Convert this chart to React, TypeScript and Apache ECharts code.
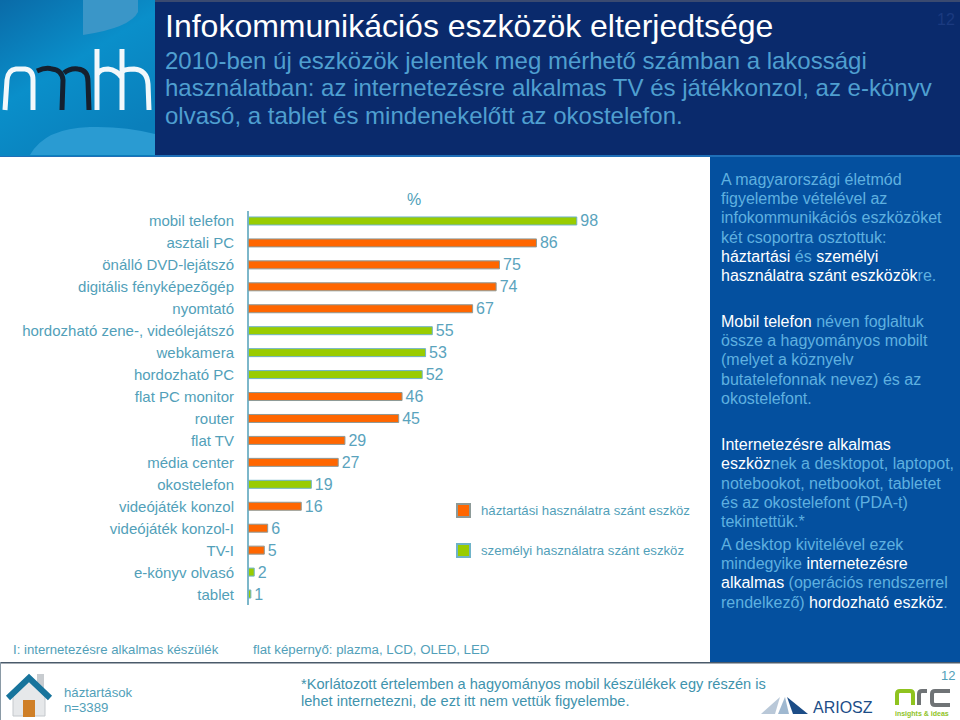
import React, { useEffect, useRef } from "react";
import * as echarts from "echarts";

const categories = [
  "mobil telefon", "asztali PC", "önálló DVD-lejátszó", "digitális fényképezõgép", "nyomtató",
  "hordozható zene-, videólejátszó", "webkamera", "hordozható PC", "flat PC monitor", "router",
  "flat TV", "média center", "okostelefon", "videójáték konzol", "videójáték konzol-I", "TV-I",
  "e-könyv olvasó", "tablet",
];
const household = [null, 86, 75, 74, 67, null, null, null, 46, 45, 29, 27, null, 16, 6, 5, null, null];
const personal = [98, null, null, null, null, 55, 53, 52, null, null, null, null, 19, null, null, null, 2, 1];
const seriesNames = ["háztartási használatra szánt eszköz", "személyi használatra szánt eszköz"];

const titleText = "Infokommunikációs eszközök elterjedtsége";
const subtitleLines = [
  "2010-ben új eszközök jelentek meg mérhető számban a lakossági",
  "használatban: az internetezésre alkalmas TV és játékkonzol, az e-könyv",
  "olvasó, a tablet és mindenekelőtt az okostelefon.",
];
// [y, [text, highlighted]...]
const panelLines: [number, [string, boolean][]][] = [
  [179, [["A magyarországi életmód", false]]],
  [198, [["figyelembe vételével az", false]]],
  [217, [["infokommunikációs eszközöket", false]]],
  [237, [["két csoportra osztottuk:", false]]],
  [256, [["háztartási", true], [" és ", false], ["személyi", true]]],
  [275, [["használatra szánt eszközök", true], ["re.", false]]],
  [321, [["Mobil telefon", true], [" néven foglaltuk", false]]],
  [340, [["össze a hagyományos mobilt", false]]],
  [359, [["(melyet a köznyelv", false]]],
  [379, [["butatelefonnak nevez) és az", false]]],
  [398, [["okostelefont.", false]]],
  [444, [["Internetezésre alkalmas", true]]],
  [463, [["eszköz", true], ["nek a desktopot, laptopot,", false]]],
  [483, [["notebookot, netbookot, tabletet", false]]],
  [502, [["és az okostelefont (PDA-t)", false]]],
  [521, [["tekintettük.*", false]]],
  [544, [["A desktop kivitelével ezek", false]]],
  [563, [["mindegyike ", false], ["internetezésre", true]]],
  [582, [["alkalmas", true], [" (operációs rendszerrel", false]]],
  [602, [["rendelkező) ", false], ["hordozható eszköz", true], [".", false]]],
];

const FONT = "Liberation Sans, Arial, sans-serif";
const TEAL = "#529fb9";

echarts.graphic.registerShape("nmhhWhite", echarts.graphic.extendPath(
  "M5 110 L7 80 Q8 70 16 69 L25 69 Q33 70 33 80 L33 110 M97 49 L97 110 M97 75 Q99 69 108 69 Q117 70 122 78 M122 49 L122 110 M122 72 Q124 69 134 69 Q147 70 148 84 L149 110", {}));
echarts.graphic.registerShape("nmhhDark", echarts.graphic.extendPath(
  "M37 71 Q46 67 52 69 Q62 70 63 80 L62 110 M64 73 Q70 68 78 69 Q88 70 88 82 L89 110", {}));
echarts.graphic.registerShape("logoBlobTop", echarts.graphic.extendPath(
  "M83 0 L138 0 L138 12 Q130 28 83 35 Z", {}));
echarts.graphic.registerShape("logoBlobBottom", echarts.graphic.extendPath(
  "M30 155 Q45 128 90 127 Q125 126 155 134 L155 155 Z", {}));
echarts.graphic.registerShape("nrcMark", echarts.graphic.extendPath(
  "M897 705 L897 694 Q897 691 900 691 L910 691 Q913 691 913 694 L913 705", {}));
echarts.graphic.registerShape("nrcGray", echarts.graphic.extendPath(
  "M919 705 L919 694 Q919 691 922 691 L927 691 M950 691 L935 691 Q932 691 932 694 L932 702 Q932 705 935 705 L950 705", {}));

function panelText(y: number, segs: [string, boolean][]) {
  const text = segs.map(([t, hi]) => `{${hi ? "h" : "n"}|${t}}`).join("");
  return {
    type: "text", x: 721, y,
    style: {
      text, font: `16px ${FONT}`, verticalAlign: "middle", align: "left",
      rich: {
        n: { fill: "#5fb0e0", font: `16px ${FONT}` },
        h: { fill: "#ffffff", font: `16px ${FONT}` },
      },
    },
  };
}

function plainText(x: number, y: number, text: string, size: number, fill: string, extra: any = {}) {
  return {
    type: "text", x, y,
    style: { text, fill, font: `${size}px ${FONT}`, verticalAlign: "middle", align: "left", ...extra },
  };
}

function buildOption() {
  const graphicEls: any[] = [
    { type: "rect", shape: { x: 0, y: 0, width: 960, height: 157 }, style: { fill: "#0a2a6c" } },
    { type: "rect", shape: { x: 0, y: 155, width: 960, height: 2 }, style: { fill: "#1f6fb8" } },
    { type: "rect", shape: { x: 155, y: 0, width: 805, height: 2 }, style: { fill: "#3a4a70" } },
    {
      type: "rect", shape: { x: 0, y: 0, width: 155, height: 156 },
      style: {
        fill: new echarts.graphic.LinearGradient(0, 0, 0.6, 1, [
          { offset: 0, color: "#0a6ba8" },
          { offset: 0.5, color: "#0a8fca" },
          { offset: 1, color: "#0a7fbb" },
        ]),
      },
    },
    { type: "logoBlobTop", style: { fill: "#3a96c8" } },
    { type: "logoBlobBottom", style: { fill: "#2a9bd2" } },
    { type: "nmhhWhite", style: { fill: "none", stroke: "#f2f8fb", lineWidth: 5 } },
    { type: "nmhhDark", style: { fill: "none", stroke: "#15202e", lineWidth: 5 } },
    plainText(165, 26, titleText, 32, "#ffffff"),
    ...subtitleLines.map((t, i) => plainText(165, 60 + i * 27.5, t, 24, "#4f9fd0")),
    plainText(937, 19, "12", 16, "#1b3a80"),

    { type: "rect", shape: { x: 710, y: 157, width: 250, height: 505 }, style: { fill: "#04509f" } },
    ...panelLines.map(([y, segs]) => panelText(y, segs)),

    plainText(407, 199, "%", 16, TEAL),
    { type: "line", shape: { x1: 248, y1: 211, x2: 248, y2: 605 }, style: { stroke: TEAL, lineWidth: 1.5 } },

    plainText(13, 649, "I: internetezésre alkalmas készülék", 13.2, TEAL),
    plainText(253, 649, "flat képernyő: plazma, LCD, OLED, LED", 13.25, TEAL),
    { type: "rect", shape: { x: 0, y: 662, width: 960, height: 1.5 }, style: { fill: "#4a5a6a" } },
    { type: "rect", shape: { x: 0, y: 662, width: 1, height: 58 }, style: { fill: "#8a9aa6" } },

    // house icon
    { type: "rect", shape: { x: 37, y: 674, width: 7, height: 16 }, style: { fill: "#c8ccd0" } },
    { type: "polygon", shape: { points: [[13, 697], [29, 680], [45, 697], [45, 716], [13, 716]] }, style: { fill: "#e6e8ea", stroke: "#c4c8cc" } },
    { type: "polyline", shape: { points: [[8, 698], [29, 678], [50, 698]] }, style: { stroke: "#17749c", lineWidth: 6, fill: "none" } },
    { type: "rect", shape: { x: 23, y: 700, width: 12, height: 17 }, style: { fill: "#cf7f27" } },

    plainText(64, 692, "háztartások", 13.2, TEAL),
    plainText(64, 707, "n=3389", 13.2, TEAL),
    plainText(301, 684, "*Korlátozott értelemben a hagyományos mobil készülékek egy részén is", 14.6, "#3f93ad"),
    plainText(301, 701, "lehet internetezni, de ezt itt nem vettük figyelembe.", 14.6, "#3f93ad"),
    plainText(941, 675, "12", 13, TEAL),

    // ARIOSZ mark
    { type: "polygon", shape: { points: [[761, 714], [780, 697], [775, 714]] }, style: { fill: "#b9c8d8" } },
    { type: "polygon", shape: { points: [[778, 714], [785, 697], [789, 714]] }, style: { fill: "#9fb8d0" } },
    { type: "polygon", shape: { points: [[787, 697], [808, 714], [793, 714]] }, style: { fill: "#1c4d87" } },
    plainText(813, 707, "ARIOSZ", 16, "#1c4d87"),

    // nrc mark
    { type: "nrcMark", style: { fill: "none", stroke: "#8fc31f", lineWidth: 4 } },
    { type: "nrcGray", style: { fill: "none", stroke: "#6f7376", lineWidth: 4 } },
    plainText(895, 713, "insights & ideas", 7, "#8fc31f", { font: `bold 7px ${FONT}` }),
  ];

  const barSeries = (name: string, data: (number | null)[], color: string, border: string) => ({
    name, type: "bar", stack: "all", data, barWidth: 9,
    itemStyle: { color, borderColor: border, borderWidth: 1 },
    label: {
      show: true, position: "right", distance: 3,
      fontFamily: FONT, fontSize: 16, color: "#5aa3bd",
    },
  });

  return {
    animation: false,
    backgroundColor: "#ffffff",
    textStyle: { fontFamily: FONT },
    grid: { left: 248, top: 210, width: 336, height: 395, containLabel: false },
    xAxis: { type: "value", min: 0, max: 100, show: false },
    yAxis: {
      type: "category", data: categories, inverse: true,
      axisLine: { show: false }, axisTick: { show: false }, splitLine: { show: false },
      axisLabel: { margin: 14, fontFamily: FONT, fontSize: 15, color: TEAL, interval: 0 },
    },
    legend: {
      orient: "vertical", left: 451, top: 498, itemWidth: 13, itemHeight: 13, itemGap: 25, icon: "rect",
      selectedMode: false,
      textStyle: { fontFamily: FONT, fontSize: 13.2, color: TEAL, padding: [0, 0, 0, 6] },
      data: seriesNames,
    },
    series: [
      barSeries(seriesNames[0], household, "#ff6600", "#8d9a98"),
      barSeries(seriesNames[1], personal, "#99cc00", "#6fb3c8"),
    ],
    graphic: { elements: graphicEls },
  };
}

export default function App() {
  const ref = useRef<HTMLDivElement>(null);
  useEffect(() => {
    document.body.style.margin = "0";
    const chart = echarts.init(ref.current!, undefined, { renderer: "svg" });
    chart.setOption(buildOption());
    return () => chart.dispose();
  }, []);
  return <div ref={ref} style={{ width: 960, height: 720 }} />;
}
